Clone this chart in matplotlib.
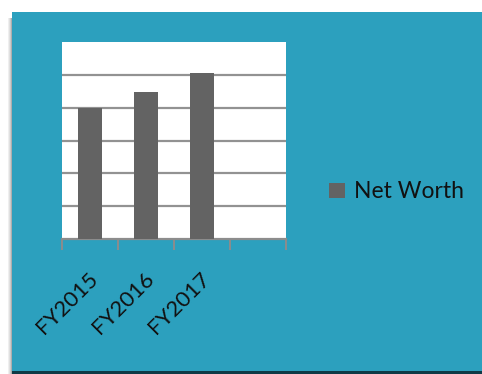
import matplotlib
matplotlib.use("Agg")
import matplotlib.pyplot as plt
import matplotlib.transforms as mtransforms
from matplotlib.patches import Rectangle
import numpy as np

# ---- data ----
categories = ["FY2015", "FY2016", "FY2017"]
net_worth = [40.0, 44.7, 50.5]
n_slots = 4
y_max = 60
grid_values = [10, 20, 30, 40, 50]
series_name = "Net Worth"

W, H = 482, 374
DPI = 100
fig = plt.figure(figsize=(W / DPI, H / DPI), dpi=DPI)
fig.patch.set_facecolor("white")

teal = "#2CA0BE"
# shadow on left
for i, a in enumerate([0.08, 0.15, 0.25, 0.4]):
    fig.patches.append(Rectangle(((8 + i) / W, 0 / H), 1 / W, (H - 18) / H,
                                 transform=fig.transFigure, facecolor="#333333",
                                 alpha=a, edgecolor="none", zorder=0))
# teal panel
fig.patches.append(Rectangle((12 / W, 3 / H), (W - 12) / W, (H - 15) / H,
                             transform=fig.transFigure, facecolor=teal,
                             edgecolor="none", zorder=1))
# dark bottom line
fig.patches.append(Rectangle((12 / W, 0), (W - 12) / W, 3 / H,
                             transform=fig.transFigure, facecolor="#0F3A46",
                             edgecolor="none", zorder=1))

ax = fig.add_axes([62 / W, (H - 239) / H, (286 - 62) / W, (239 - 42) / H])
ax.set_facecolor("white")
ax.set_zorder(2)

x = np.arange(len(categories))
ax.bar(x, net_worth, width=0.42, color="#636363", zorder=3, label=series_name)

ax.set_xlim(-0.5, n_slots - 0.5)
ax.set_ylim(0, y_max)
for g in grid_values:
    ax.axhline(g, color="#929292", lw=1.6, zorder=1)

for s in ["top", "left", "right"]:
    ax.spines[s].set_visible(False)
ax.spines["bottom"].set_color("#8C8C8C")
ax.spines["bottom"].set_linewidth(1.6)
ax.set_yticks([])
ax.set_xticks(np.arange(-0.5, n_slots, 1.0))
ax.set_xticklabels([])
ax.tick_params(axis="x", direction="out", length=8, width=1.4, color="#8C8C8C")

font = "Lato"
trans = mtransforms.offset_copy(ax.get_xaxis_transform(), fig=fig,
                                x=5, y=-37, units="dots")
for xi, lab in zip(x, categories):
    ax.text(xi, 0, lab, transform=trans, rotation=45, rotation_mode="anchor",
            ha="right", va="center", fontsize=16, family=font, color="#111111")

leg = fig.legend(loc="center left", bbox_to_anchor=(329 / W, (H - 192) / H),
                 frameon=False, borderpad=0, borderaxespad=0,
                 handlelength=0.68, handleheight=0.68, handletextpad=0.4,
                 prop={"family": font, "size": 16.5})
for t in leg.get_texts():
    t.set_color("#111111")

fig.savefig("out.png", dpi=DPI, facecolor=fig.get_facecolor())
